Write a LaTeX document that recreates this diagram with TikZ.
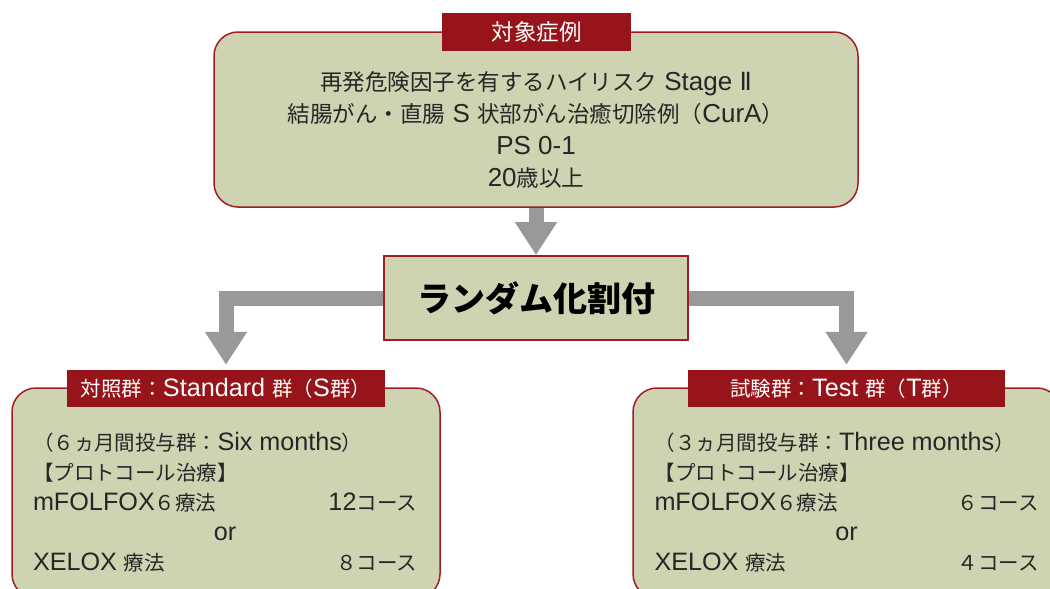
\documentclass[tikz,border=0pt]{standalone}
\usepackage{fontspec}
\setmainfont{Noto Sans CJK JP}
\newfontfamily\latfont{Liberation Sans}
\newfontfamily\symfont{DejaVu Sans}
\newcommand\laT[1]{{\latfont\fontsize{26}{32}\selectfont #1}}
\newcommand\laB[1]{{\latfont\fontsize{25.2}{30}\selectfont #1}}
\usetikzlibrary{arrows.meta}
\definecolor{boxfill}{RGB}{206,212,178}
\definecolor{boxline}{RGB}{160,30,35}
\definecolor{labfill}{RGB}{150,20,26}
\definecolor{bargray}{RGB}{153,153,153}
\definecolor{txt}{RGB}{38,38,38}
\tikzset{
  roundbox/.style={draw=boxline, line width=1.5pt, fill=boxfill, rounded corners=24pt, inner sep=0pt},
  randbox/.style={draw=boxline, line width=1.8pt, fill=boxfill, inner sep=0pt, minimum width=304pt, minimum height=84pt,
    text=black, font=\fontsize{34}{40}\selectfont\bfseries},
  lab/.style={fill=labfill, text=white, inner sep=0pt},
  toptxt/.style={text=txt, align=center, font=\fontsize{22.5}{32}\selectfont},
  grptxt/.style={text=txt, align=left, text width=384pt, inner sep=0pt, font=\fontsize{20.5}{30}\selectfont},
  bar/.style={draw=bargray, line width=15pt, -{Triangle[width=40pt,length=33pt]}, line join=miter}
}
\begin{document}
\begin{tikzpicture}[x=1pt,y=-1pt]
\useasboundingbox (0,0) rectangle (1050,589);
\begin{scope}
\clip (0,0) rectangle (1050,589);
% boxes
\node[roundbox, minimum width=644pt, minimum height=175pt] (top) at (536,119.5) {};
\node[randbox] (mid) at (536,298) {ランダム化割付};
\node[roundbox, minimum width=428pt, minimum height=210pt] (sbox) at (226,493) {};
\node[roundbox, minimum width=428pt, minimum height=210pt] (tbox) at (847,493) {};
% labels
\node[lab, minimum width=189pt, minimum height=38pt, font=\fontsize{22.5}{26}\selectfont] (toplab) at (536.5,32) {対象症例};
\node[lab, minimum width=318pt, minimum height=37pt, font=\fontsize{20.5}{24}\selectfont] (slab) at (226,388.5) {対照群：\laB{Standard }群（\laB{S}群）};
\node[lab, minimum width=317pt, minimum height=37pt, font=\fontsize{20.5}{24}\selectfont] (tlab) at (846.5,388.5) {試験群：\laB{Test }群（\laB{T}群）};
% texts
\node[toptxt] (toptext) at (536,129.5) {再発危険因子を有するハイリスク\laT{ Stage }{\symfont\fontsize{25}{32}\selectfont Ⅱ}\\結腸がん・直腸\laT{ S }状部がん治癒切除例（\laT{CurA}）\\\laT{PS 0-1}\\\laT{20}歳以上};
\node[grptxt] (stext) at (225,502.5) {（６ヵ月間投与群：\laB{Six months}）\\【プロトコール治療】\\\makebox[\linewidth][s]{\laB{mFOLFOX}６療法\hfill \laB{12}コース}\\\makebox[\linewidth][c]{\laB{or}}\\\makebox[\linewidth][s]{\laB{XELOX }療法\hfill ８コース}};
\node[grptxt] (ttext) at (846.5,502.5) {（３ヵ月間投与群：\laB{Three months}）\\【プロトコール治療】\\\makebox[\linewidth][s]{\laB{mFOLFOX}６療法\hfill ６コース}\\\makebox[\linewidth][c]{\laB{or}}\\\makebox[\linewidth][s]{\laB{XELOX }療法\hfill ４コース}};
% connectors
\draw[bar] (top.south) -- (mid.north);
\draw[bar, shorten >=5pt] (mid.west) -| (slab.north);
\draw[bar, shorten >=5pt] (mid.east) -| (tlab.north);
\end{scope}
\end{tikzpicture}
\end{document}
